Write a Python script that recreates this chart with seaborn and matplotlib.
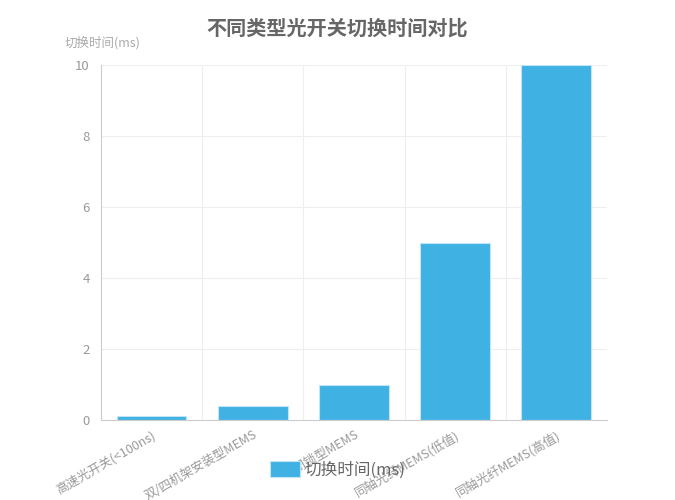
import matplotlib.pyplot as plt
import seaborn as sns
import numpy as np
import pandas as pd
from matplotlib.ticker import FixedLocator

categories = ["高速光开关(<100ns)", "双/四机架安装型MEMS", "非闭锁型MEMS",
              "同轴光纤MEMS(低值)", "同轴光纤MEMS(高值)"]
switch_time = [0.1, 0.4, 1, 5, 10]
series_name = "切换时间(ms)"

df = pd.DataFrame({"type": categories, "time": switch_time})

sns.set_style("white")
plt.rcParams['font.family'] = ['Noto Sans CJK SC', 'DejaVu Sans']

fig = plt.figure(figsize=(6.75, 5), dpi=100)
ax = fig.add_axes([0.1496, 0.16, 0.7496, 0.71])

sns.barplot(data=df, x="type", y="time", color="#3fb1e3", width=0.69,
            edgecolor="#bfe6f6", linewidth=0.8, saturation=1, ax=ax,
            label=series_name)

ax.set_ylim(0, 10)
ax.set_xlim(-0.5, len(categories) - 0.5)
ax.set_yticks([0, 2, 4, 6, 8, 10])
ax.xaxis.set_minor_locator(FixedLocator(np.arange(-0.5, len(categories), 1)))
ax.grid(axis="y", color="#eeeeee", linewidth=0.8)
ax.grid(axis="x", which="minor", color="#eeeeee", linewidth=0.8)
ax.grid(axis="x", which="major", visible=False)
ax.set_axisbelow(True)

for s in ["top", "right"]:
    ax.spines[s].set_visible(False)
for s in ["left", "bottom"]:
    ax.spines[s].set_color("#cccccc")

ax.tick_params(axis="y", length=0, labelsize=9.5, labelcolor="#999999", pad=8)
ax.tick_params(axis="x", which="major", length=3, color="#cccccc",
               labelsize=9, labelcolor="#999999", pad=3)
ax.tick_params(axis="x", which="minor", length=0)
ax.set_xticks(range(len(categories)))
ax.set_xticklabels(categories, rotation=30, ha="right", rotation_mode="anchor")
ax.set_xlabel("")
ax.set_ylabel("")

handles, labels = ax.get_legend_handles_labels()
if ax.get_legend() is not None:
    ax.get_legend().remove()

fig.text(0.096, 0.915, series_name, fontsize=9, color="#aaaaaa", ha="left", va="center")
fig.suptitle("不同类型光开关切换时间对比", x=0.5, y=0.965, fontsize=14.5,
             fontweight="bold", color="#666666")

fig.legend(handles, labels, loc="center", bbox_to_anchor=(0.5, 0.06), frameon=False,
           fontsize=12, labelcolor="#666666", handlelength=1.8, handleheight=1.1,
           handletextpad=0.3)

fig.savefig("out.png", dpi=100)
